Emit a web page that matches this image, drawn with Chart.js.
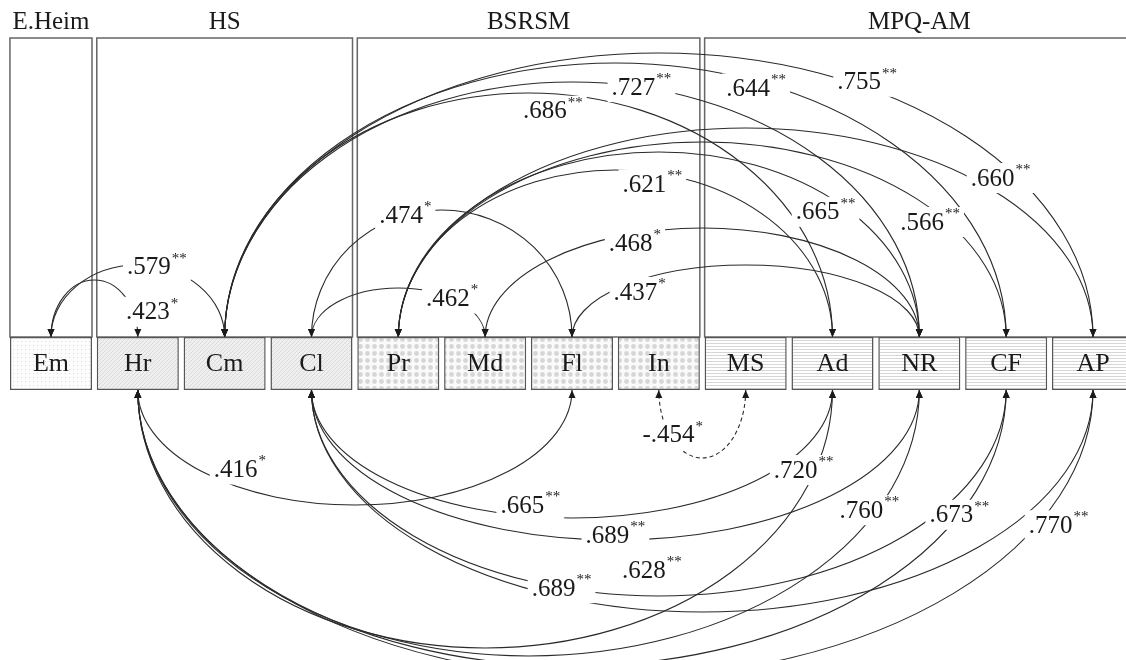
<!DOCTYPE html>
<html>
<head>
<meta charset="utf-8">
<script src="https://cdn.jsdelivr.net/npm/chart.js@4.4.1/dist/chart.umd.min.js"></script>
<style>
  html, body { margin: 0; padding: 0; background: #fff; }
  canvas { display: block; }
</style>
</head>
<body>
<canvas id="myChart" width="1126" height="660"></canvas>
<script>
// scales in the row, left to right
var nodes = ['Em','Hr','Cm','Cl','Pr','Md','Fl','In','MS','Ad','NR','CF','AP'];
var groups = ['E.Heim','HS','BSRSM','MPQ-AM'];
var nodeGroup = [0,1,1,1,2,2,2,2,3,3,3,3,3];

// correlations between scales
var linkFrom = ['Em','Em','Cm','Cm','Cm','Cm','Cl','Cl','Pr','Pr','Pr','Pr','Md','Fl',
                'Hr','Hr','Hr','Hr','Hr','Cl','Cl','Cl','Cl','In'];
var linkTo   = ['Hr','Cm','Ad','NR','CF','AP','Md','Fl','Ad','NR','CF','AP','NR','NR',
                'Fl','Ad','NR','CF','AP','Ad','NR','CF','AP','MS'];
var linkR    = [.423,.579,.686,.727,.644,.755,.462,.474,.621,.665,.566,.660,.468,.437,
                .416,.720,.760,.673,.770,.665,.689,.628,.689,-.454];
var linkSig  = ['*','**','**','**','**','**','*','*','**','**','**','**','*','*',
                '*','**','**','**','**','**','**','**','**','*'];
var linkSide = ['up','up','up','up','up','up','up','up','up','up','up','up','up','up',
                'down','down','down','down','down','down','down','down','down','down'];

// drawing layout (not data): arc height, where the label sits on the arc, label nudge
var arcDepth = [57,72,244,255,274,284,49,127,167,185,195,209,109,72,
                115,258,266,276,288,128,150,206,222,68];
var labelAt  = [.9,.61,.54,.6,.68,.74,.81,.36,.585,.82,.875,.867,.345,.195,
                .235,.97,.936,.946,.964,.42,.5,.49,.32,.16];
var labelDx  = [23,0,0,0,0,0,0,0,0,0,0,0,0,0, 0,-8,0,0,0,0,0,0,0,0];
var labelDy  = [9,0,17,0,7,-6,0,0,12,17,14,-17,10,12,
                -18,-8,-10,0,28,-11,-5,-26,-9,-5];

var boxTop = 337, boxBottom = 390, frameTop = 38, titleY = 22;
var serif = '"Liberation Serif", "Times New Roman", serif';

function makePattern(kind) {
    var c = document.createElement('canvas');
    var g = c.getContext('2d');
    if (kind == 0) {
        c.width = 4; c.height = 4;
        g.fillStyle = '#fdfdfd'; g.fillRect(0, 0, 4, 4);
        g.fillStyle = '#dcdcdc'; g.fillRect(1, 1, 1, 1);
    } else if (kind == 1) {
        c.width = 4; c.height = 4;
        g.fillStyle = '#efefef'; g.fillRect(0, 0, 4, 4);
        g.strokeStyle = '#dadada'; g.lineWidth = 1;
        g.beginPath(); g.moveTo(0, 4); g.lineTo(4, 0); g.stroke();
    } else if (kind == 2) {
        c.width = 7; c.height = 7;
        g.fillStyle = '#fafafa'; g.fillRect(0, 0, 7, 7);
        g.fillStyle = '#d6d6d6';
        g.beginPath(); g.arc(3.5, 3.5, 2.4, 0, Math.PI * 2); g.fill();
    } else {
        c.width = 3; c.height = 3;
        g.fillStyle = '#ffffff'; g.fillRect(0, 0, 3, 3);
        g.fillStyle = '#d6d6d6'; g.fillRect(0, 1, 3, 1);
    }
    return g.createPattern(c, 'repeat');
}

var fills = nodeGroup.map(function(k) { return makePattern(k); });

function arrow(ctx, x, y, dir) {
    ctx.beginPath();
    ctx.moveTo(x, y);
    ctx.lineTo(x - 3.5, y - dir * 8);
    ctx.lineTo(x + 3.5, y - dir * 8);
    ctx.closePath();
    ctx.fill();
}

var diagramPlugin = {
    id: 'diagram',
    beforeDatasetsDraw: function(chart) {
        var ctx = chart.ctx, bars = chart.getDatasetMeta(0).data;
        var ys = chart.scales.y;
        ctx.save();
        ctx.strokeStyle = '#666';
        ctx.lineWidth = 1.5;
        ctx.fillStyle = '#1a1a1a';
        ctx.font = '25px ' + serif;
        ctx.textAlign = 'center';
        ctx.textBaseline = 'middle';
        groups.forEach(function(name, g) {
            var first = nodeGroup.indexOf(g), last = nodeGroup.lastIndexOf(g);
            var left = bars[first].x - bars[first].width / 2;
            var right = bars[last].x + bars[last].width / 2;
            var top = ys.getPixelForValue(frameTop), bottom = ys.getPixelForValue(boxTop);
            ctx.strokeRect(left, top, right - left, bottom - top);
            ctx.fillText(name, (left + right) / 2, ys.getPixelForValue(titleY));
        });
        ctx.restore();
    },
    afterDatasetsDraw: function(chart) {
        var ctx = chart.ctx, bars = chart.getDatasetMeta(0).data;
        var xs = chart.scales.x, ys = chart.scales.y;
        ctx.save();

        // node names
        ctx.fillStyle = '#1a1a1a';
        ctx.font = '26px ' + serif;
        ctx.textAlign = 'center';
        ctx.textBaseline = 'middle';
        nodes.forEach(function(n, i) {
            ctx.fillText(n, bars[i].x, ys.getPixelForValue((boxTop + boxBottom) / 2) + 1);
        });

        // arcs
        var labels = [];
        ctx.strokeStyle = '#2a2a2a';
        ctx.fillStyle = '#1a1a1a';
        ctx.lineWidth = 1.1;
        linkFrom.forEach(function(a, k) {
            var x0 = xs.getPixelForValue(nodes.indexOf(a));
            var x1 = xs.getPixelForValue(nodes.indexOf(linkTo[k]));
            var up = linkSide[k] == 'up';
            var base = ys.getPixelForValue(up ? boxTop : boxBottom);
            var cx = (x0 + x1) / 2, rx = Math.abs(x1 - x0) / 2;
            var ry = Math.abs(ys.getPixelForValue(arcDepth[k]) - ys.getPixelForValue(0));
            ctx.setLineDash(linkR[k] < 0 ? [4, 3] : []);
            ctx.beginPath();
            if (up) ctx.ellipse(cx, base, rx, ry, 0, Math.PI, 2 * Math.PI);
            else ctx.ellipse(cx, base, rx, ry, 0, 0, Math.PI);
            ctx.stroke();
            ctx.setLineDash([]);
            arrow(ctx, x0, base, up ? 1 : -1);
            arrow(ctx, x1, base, up ? 1 : -1);
            var c = 2 * labelAt[k] - 1, s = Math.sqrt(Math.max(0, 1 - c * c));
            labels.push({
                x: cx + rx * c + labelDx[k],
                y: base + (up ? -1 : 1) * ry * s + labelDy[k],
                r: linkR[k], sig: linkSig[k]
            });
        });

        // value labels on white boxes
        labels.forEach(function(l) {
            var txt = Math.abs(l.r).toFixed(3).replace(/^0/, '');
            if (l.r < 0) txt = '-' + txt;
            ctx.font = '25px ' + serif;
            var w1 = ctx.measureText(txt).width;
            ctx.font = '15px ' + serif;
            var w2 = ctx.measureText(l.sig).width;
            var tw = w1 + w2 + 1, left = l.x - tw / 2;
            ctx.fillStyle = '#fff';
            ctx.fillRect(left - 4, l.y - 15, tw + 8, 30);
            ctx.fillStyle = '#1a1a1a';
            ctx.textAlign = 'left';
            ctx.textBaseline = 'middle';
            ctx.font = '25px ' + serif;
            ctx.fillText(txt, left, l.y + 1);
            ctx.font = '15px ' + serif;
            ctx.fillText(l.sig, left + w1 + 1, l.y - 8);
        });
        ctx.restore();
    }
};

var ctx = document.getElementById('myChart');
var myChart = new Chart(ctx, {
    type: 'bar',
    data: {
        datasets: [{
            data: nodes.map(function(n, i) { return { x: i, y: [boxTop, boxBottom] }; }),
            backgroundColor: fills,
            borderColor: '#555',
            borderWidth: 1.5,
            borderSkipped: false,
            barPercentage: 0.945,
            categoryPercentage: 1
        }]
    },
    options: {
        responsive: false,
        animation: false,
        layout: { padding: 0 },
        plugins: { legend: { display: false }, tooltip: { enabled: false } },
        scales: {
            x: { type: 'linear', min: -0.587, max: 12.38, offset: false, display: false },
            y: { type: 'linear', min: 0, max: 660, reverse: true, display: false }
        }
    },
    plugins: [diagramPlugin]
});
</script>
</body>
</html>
